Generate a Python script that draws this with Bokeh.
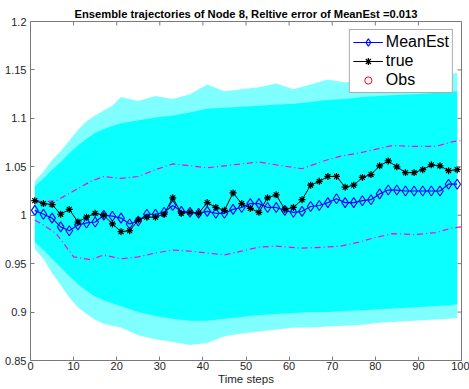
import math
from bokeh.plotting import figure
from bokeh.models import FixedTicker, Range1d, Legend, LegendItem
from bokeh.embed import file_html
from bokeh.resources import INLINE

# ---- data ----
t_obs = [1, 3, 5, 7, 9, 11, 13, 15, 17, 19, 21, 23, 25, 27, 29, 31, 33, 35, 37, 39,
         41, 43, 45, 47, 49, 51, 53, 55, 57, 59, 61, 63, 65, 67, 69, 71, 73, 75, 77, 79,
         81, 83, 85, 87, 89, 91, 93, 95, 97, 99]
true_vals = [1.015, 1.012, 1.011, 1.001, 1.006, 0.993, 0.998, 1.002, 1.000, 0.991,
             0.983, 0.984, 0.995, 0.998, 0.998, 1.001, 1.018, 1.002, 1.003, 1.002,
             1.013, 1.008, 1.005, 1.023, 1.012, 1.007, 1.003, 1.018, 1.021, 1.006,
             1.008, 1.016, 1.031, 1.035, 1.040, 1.040, 1.029, 1.031, 1.039, 1.042,
             1.051, 1.056, 1.050, 1.044, 1.044, 1.047, 1.052, 1.051, 1.046, 1.047]
mean_est = [1.005, 1.001, 0.997, 0.988, 0.984, 0.990, 0.992, 0.993, 1.000, 0.999,
            0.997, 0.991, 0.994, 1.001, 1.001, 1.003, 1.010, 1.004, 1.003, 1.002,
            1.004, 1.002, 1.002, 1.006, 1.008, 1.012, 1.012, 1.008, 1.008, 1.005,
            1.003, 1.004, 1.009, 1.010, 1.013, 1.017, 1.013, 1.013, 1.015, 1.016,
            1.022, 1.026, 1.026, 1.025, 1.025, 1.025, 1.025, 1.025, 1.032, 1.032]
# no observation is visible in the plot area
obs_t = [float("nan")]
obs_v = [float("nan")]

t_bound = [1, 3, 6, 10, 14, 17, 21, 25, 29, 33, 37, 41, 45, 49, 53, 57, 63, 68, 72,
           76, 80, 84, 89, 94, 98, 100]
upper_bound = [1.015, 1.014, 1.015, 1.025, 1.035, 1.040, 1.038, 1.040, 1.047, 1.053,
               1.051, 1.049, 1.051, 1.053, 1.055, 1.052, 1.048, 1.056, 1.061, 1.064,
               1.068, 1.072, 1.071, 1.071, 1.076, 1.077]
lower_bound = [0.995, 0.990, 0.981, 0.957, 0.954, 0.959, 0.955, 0.957, 0.961, 0.964,
               0.963, 0.961, 0.959, 0.963, 0.967, 0.968, 0.966, 0.967, 0.968, 0.972,
               0.977, 0.981, 0.980, 0.982, 0.987, 0.988]

t_env = [1, 3, 5, 7, 9, 11, 13, 15, 17, 19, 21, 25, 29, 33, 37, 41, 45, 49, 53, 57,
         61, 65, 69, 73, 77, 81, 85, 89, 93, 97, 99]
env_upper = [1.035, 1.045, 1.057, 1.066, 1.077, 1.088, 1.097, 1.103, 1.108, 1.113,
             1.122, 1.118, 1.123, 1.120, 1.125, 1.135, 1.128, 1.130, 1.132, 1.136,
             1.130, 1.135, 1.140, 1.137, 1.140, 1.142, 1.140, 1.142, 1.143, 1.145, 1.147]
env_lower = [0.965, 0.955, 0.940, 0.928, 0.915, 0.905, 0.898, 0.892, 0.888, 0.886,
             0.884, 0.876, 0.872, 0.869, 0.866, 0.868, 0.875, 0.878, 0.880, 0.882,
             0.884, 0.884, 0.885, 0.886, 0.887, 0.889, 0.890, 0.891, 0.892, 0.893, 0.894]
dense_upper = [1.030, 1.038, 1.047, 1.055, 1.064, 1.072, 1.079, 1.085, 1.089, 1.092,
               1.095, 1.098, 1.101, 1.103, 1.106, 1.110, 1.111, 1.112, 1.113, 1.114,
               1.115, 1.117, 1.119, 1.120, 1.122, 1.123, 1.124, 1.125, 1.126, 1.127, 1.128]
dense_lower = [0.972, 0.964, 0.955, 0.946, 0.937, 0.929, 0.922, 0.916, 0.912, 0.909,
               0.906, 0.900, 0.896, 0.893, 0.891, 0.891, 0.893, 0.895, 0.897, 0.898,
               0.899, 0.900, 0.900, 0.901, 0.902, 0.903, 0.904, 0.905, 0.906, 0.907, 0.908]

x_ticks = [0, 10, 20, 30, 40, 50, 60, 70, 80, 90, 100]
y_ticks = [0.85, 0.9, 0.95, 1.0, 1.05, 1.1, 1.15, 1.2]
y_tick_labels = ["0.85", "0.9", "0.95", "1", "1.05", "1.1", "1.15", "1.2"]

title_text = "Ensemble trajectories of Node 8, Reltive error of MeanEst =0.013"
FONT = "Liberation Sans"
AX = "#7a7a7a"
X0, X1, Y0, Y1 = 0, 100, 0.85, 1.2

p = figure(width=469, height=389, output_backend="svg", toolbar_location=None,
           x_range=Range1d(X0, X1), y_range=Range1d(Y0, Y1),
           min_border_left=30, min_border_right=8, min_border_top=21, min_border_bottom=29)
p.background_fill_color = "white"
p.border_fill_color = "white"
p.outline_line_color = AX
p.xgrid.visible = False
p.ygrid.visible = False

p.title.text = title_text
p.title.text_font = FONT
p.title.text_font_size = "11.2px"
p.title.text_font_style = "bold"
p.title.text_color = "black"
p.title.align = "center"
p.title.standoff = 3
p.title.offset = 0

# ensemble cloud
p.varea(x=t_env, y1=env_lower, y2=env_upper, fill_color="#00FFFF", fill_alpha=0.5)
p.varea(x=t_env, y1=dense_lower, y2=dense_upper, fill_color="#00FFFF", fill_alpha=0.92)

# bounds
p.line(t_bound, upper_bound, line_color="#FF00FF", line_width=1.2, line_dash="6 3 1 3")
p.line(t_bound, lower_bound, line_color="#FF00FF", line_width=1.2, line_dash="6 3 1 3")

# Mean estimate
r_mean_l = p.line(t_obs, mean_est, line_color="#0000FF", line_width=1.2)
r_mean_m = p.scatter(t_obs, mean_est, marker="diamond", size=10, line_color="#0000FF",
                     fill_color=None, line_width=1.1)
# truth
r_true_l = p.line(t_obs, true_vals, line_color="black", line_width=1)
r_true_m = p.scatter(t_obs, true_vals, marker="asterisk", size=7, line_color="black",
                     line_width=1.2)
# observations
r_obs = p.scatter(obs_t, obs_v, marker="circle", size=7, line_color="red",
                  fill_color=None, line_width=1)

# top and right inner tick marks (box style)
p.ray(x=x_ticks, y=[Y1] * len(x_ticks), length=4, length_units="screen",
      angle=-math.pi / 2, line_color=AX, line_width=1)
p.ray(x=[X1] * len(y_ticks), y=y_ticks, length=4, length_units="screen",
      angle=math.pi, line_color=AX, line_width=1)

# axes
for ax in (p.xaxis[0], p.yaxis[0]):
    ax.axis_line_color = AX
    ax.major_tick_line_color = AX
    ax.major_tick_in = 4
    ax.major_tick_out = 0
    ax.minor_tick_line_color = None
    ax.major_label_text_font = FONT
    ax.major_label_text_font_size = "11px"
    ax.major_label_text_color = "#262626"

p.xaxis[0].ticker = FixedTicker(ticks=x_ticks)
p.xaxis[0].major_label_standoff = 1
p.xaxis[0].axis_label = "Time steps"
p.xaxis[0].axis_label_text_font = FONT
p.xaxis[0].axis_label_text_font_size = "11.5px"
p.xaxis[0].axis_label_text_font_style = "normal"
p.xaxis[0].axis_label_text_color = "#262626"
p.xaxis[0].axis_label_standoff = 0

p.yaxis[0].ticker = FixedTicker(ticks=y_ticks)
p.yaxis[0].major_label_overrides = {k: v for k, v in zip(y_ticks, y_tick_labels)}
p.yaxis[0].major_label_standoff = 4

legend = Legend(items=[
    LegendItem(label="MeanEst", renderers=[r_mean_l, r_mean_m]),
    LegendItem(label="true", renderers=[r_true_l, r_true_m]),
    LegendItem(label="Obs", renderers=[r_obs]),
], location="top_right")
legend.label_text_font = FONT
legend.label_text_font_size = "16px"
legend.label_text_color = "black"
legend.label_height = 18
legend.glyph_height = 18
legend.glyph_width = 30
legend.spacing = 1
legend.padding = 3
legend.margin = 8
legend.label_standoff = 3
legend.border_line_color = "#5a5a5a"
legend.border_line_width = 1
legend.background_fill_alpha = 1
p.add_layout(legend, "center")

open("out.html", "w").write(file_html(p, INLINE))
